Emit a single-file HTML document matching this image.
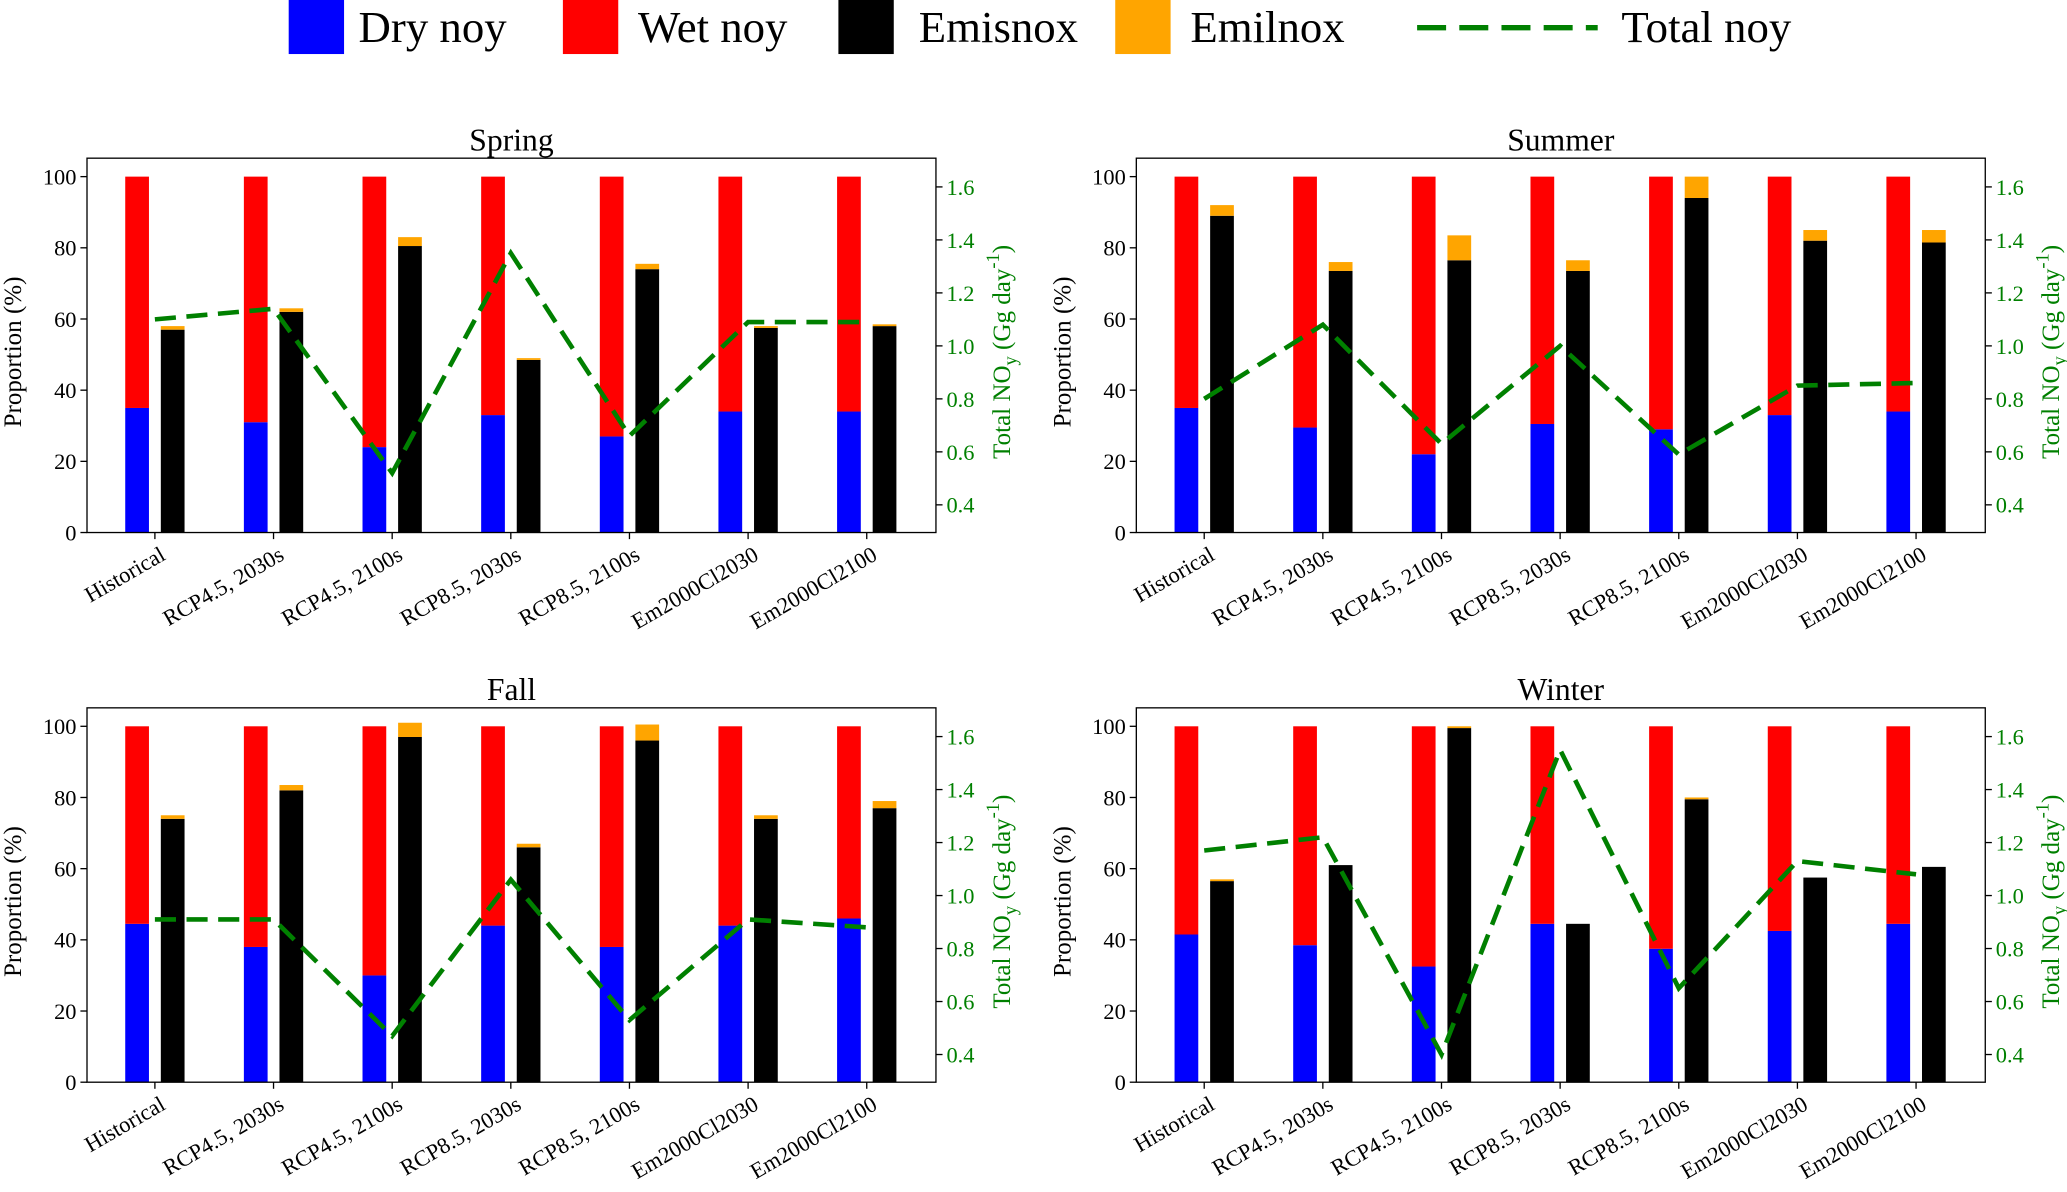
<!DOCTYPE html>
<html><head><meta charset="utf-8"><style>
html,body{margin:0;padding:0;background:#fff}
svg{display:block}
text{font-family:"Liberation Serif",serif}
</style></head><body>
<svg id="chart" width="2067" height="1192" viewBox="0 0 1568 904.3" preserveAspectRatio="none" xmlns="http://www.w3.org/2000/svg">
<g id="legend">
<rect x="219" y="0" width="42" height="41" fill="#0000ff"/>
<text x="272" y="32" font-size="34">Dry noy</text>
<rect x="427" y="0" width="42" height="41" fill="#ff0000"/>
<text x="484" y="32" font-size="34">Wet noy</text>
<rect x="636" y="0" width="42" height="41" fill="#000"/>
<text x="697" y="32" font-size="34">Emisnox</text>
<rect x="846" y="0" width="42" height="41" fill="#ffa500"/>
<text x="903" y="32" font-size="34">Emilnox</text>
<line x1="1075" y1="21" x2="1212" y2="21" stroke="#008000" stroke-width="4" stroke-dasharray="22,10"/>
<text x="1230" y="32" font-size="34">Total noy</text>
</g>
</svg>
<script>
const categories=["Historical","RCP4.5, 2030s","RCP4.5, 2100s","RCP8.5, 2030s","RCP8.5, 2100s","Em2000Cl2030","Em2000Cl2100"];
const seasons=["Spring","Summer","Fall","Winter"];
const dryNoy=[[35,31,24,33,27,34,34],[35,29.5,22,30.5,29,33,34],[44.5,38,30,44,38,44,46],[41.5,38.5,32.5,44.5,37.5,42.5,44.5]];
const wetNoy=[[65,69,76,67,73,66,66],[65,70.5,78,69.5,71,67,66],[55.5,62,70,56,62,56,54],[58.5,61.5,67.5,55.5,62.5,57.5,55.5]];
const emisnox=[[57,62,80.5,48.5,74,57.5,58],[89,73.5,76.5,73.5,94,82,81.5],[74,82,97,66,96,74,77],[56.5,61,99.5,44.5,79.5,57.5,60.5]];
const emilnox=[[1,1,2.5,0.5,1.5,0.5,0.5],[3,2.5,7,3,6,3,3.5],[1,1.5,4,1,4.5,1,2],[0.5,0,0.5,0,0.5,0,0]];
const totalNoy=[[1.10,1.14,0.52,1.35,0.66,1.09,1.09],[0.80,1.08,0.63,1.00,0.59,0.85,0.86],[0.91,0.91,0.47,1.06,0.53,0.91,0.88],[1.17,1.22,0.40,1.55,0.65,1.13,1.08]];
const leftTicks=[0,20,40,60,80,100];
const rightTicks=[0.4,0.6,0.8,1.0,1.2,1.4,1.6];

const NS="http://www.w3.org/2000/svg";
const svg=document.getElementById('chart');
function mk(tag,attrs,parent){const e=document.createElementNS(NS,tag);for(const k in attrs)e.setAttribute(k,attrs[k]);(parent||svg).appendChild(e);return e;}
const origins=[[66,404],[862,404],[66,821],[862,821]];
const W=644,H=284;
seasons.forEach((s,p)=>{
  const [x0,yb]=origins[p];
  const g=mk('g',{});
  
  
  const yL=v=>yb-v*2.7;
  const yR=v=>yb-21-(v-0.4)*201;
  const xC=i=>x0+51.5+i*90;
  categories.forEach((c,i)=>{
    const bw=18;
    let r=mk('rect',{x:xC(i)-13.5-bw/2,y:yL(dryNoy[p][i]),width:bw,height:dryNoy[p][i]*2.7,fill:'#0000ff'},g);
    
    
    r=mk('rect',{x:xC(i)-13.5-bw/2,y:yL(dryNoy[p][i]+wetNoy[p][i]),width:bw,height:wetNoy[p][i]*2.7,fill:'#ff0000'},g);
    
    
    r=mk('rect',{x:xC(i)+13.5-bw/2,y:yL(emisnox[p][i]),width:bw,height:emisnox[p][i]*2.7,fill:'#000'},g);
    
    
    r=mk('rect',{x:xC(i)+13.5-bw/2,y:yL(emisnox[p][i]+emilnox[p][i]),width:bw,height:emilnox[p][i]*2.7,fill:'#ffa500'},g);
    
    
    mk('line',{x1:xC(i),x2:xC(i),y1:yb,y2:yb+5,stroke:'#000','stroke-width':1},g);
    const t=mk('text',{x:0,y:0,'font-size':17,'text-anchor':'end',transform:`translate(${xC(i)+9},${yb+20}) rotate(-30)`},g);
    t.textContent=c;
    
    
  });
  const pts=totalNoy[p].map((v,i)=>xC(i)+','+yR(v)).join(' ');
  const pl=mk('polyline',{points:pts,fill:'none',stroke:'#008000','stroke-width':3.5,'stroke-dasharray':'16,8'},g);
  
  
  const fr=mk('rect',{x:x0,y:yb-H,width:W,height:H,fill:'none',stroke:'#000','stroke-width':1},g);
  
  
  leftTicks.forEach(v=>{
    mk('line',{x1:x0-5,x2:x0,y1:yL(v),y2:yL(v),stroke:'#000'},g);
    const t=mk('text',{x:x0-8,y:yL(v)+6,'font-size':17,'text-anchor':'end'},g);
    t.textContent=v;
    
    
  });
  rightTicks.forEach(v=>{
    mk('line',{x1:x0+W,x2:x0+W+5,y1:yR(v),y2:yR(v),stroke:'#000'},g);
    const t=mk('text',{x:x0+W+8,y:yR(v)+6,'font-size':17,fill:'#008000'},g);
    t.textContent=v.toFixed(1);
    
    
  });
  let t=mk('text',{x:x0+W/2,y:yb-H-6,'font-size':24,'text-anchor':'middle'},g);
  t.textContent=s;
  
  
  t=mk('text',{x:0,y:0,'font-size':19,'text-anchor':'middle',transform:`translate(${x0-50},${yb-H/2+5}) rotate(-90)`},g);
  t.textContent='Proportion (%)';
  
  
  t=mk('text',{x:0,y:0,'font-size':19,'text-anchor':'middle',fill:'#008000',transform:`translate(${x0+W+56},${yb-H/2+5}) rotate(-90)`},g);
  t.innerHTML='Total NO<tspan font-size="14" dy="5">y</tspan><tspan dy="-5"> (Gg day</tspan><tspan font-size="14" dy="-8">-1</tspan><tspan dy="8">)</tspan>';
  
  
});
</script>
</body></html>
